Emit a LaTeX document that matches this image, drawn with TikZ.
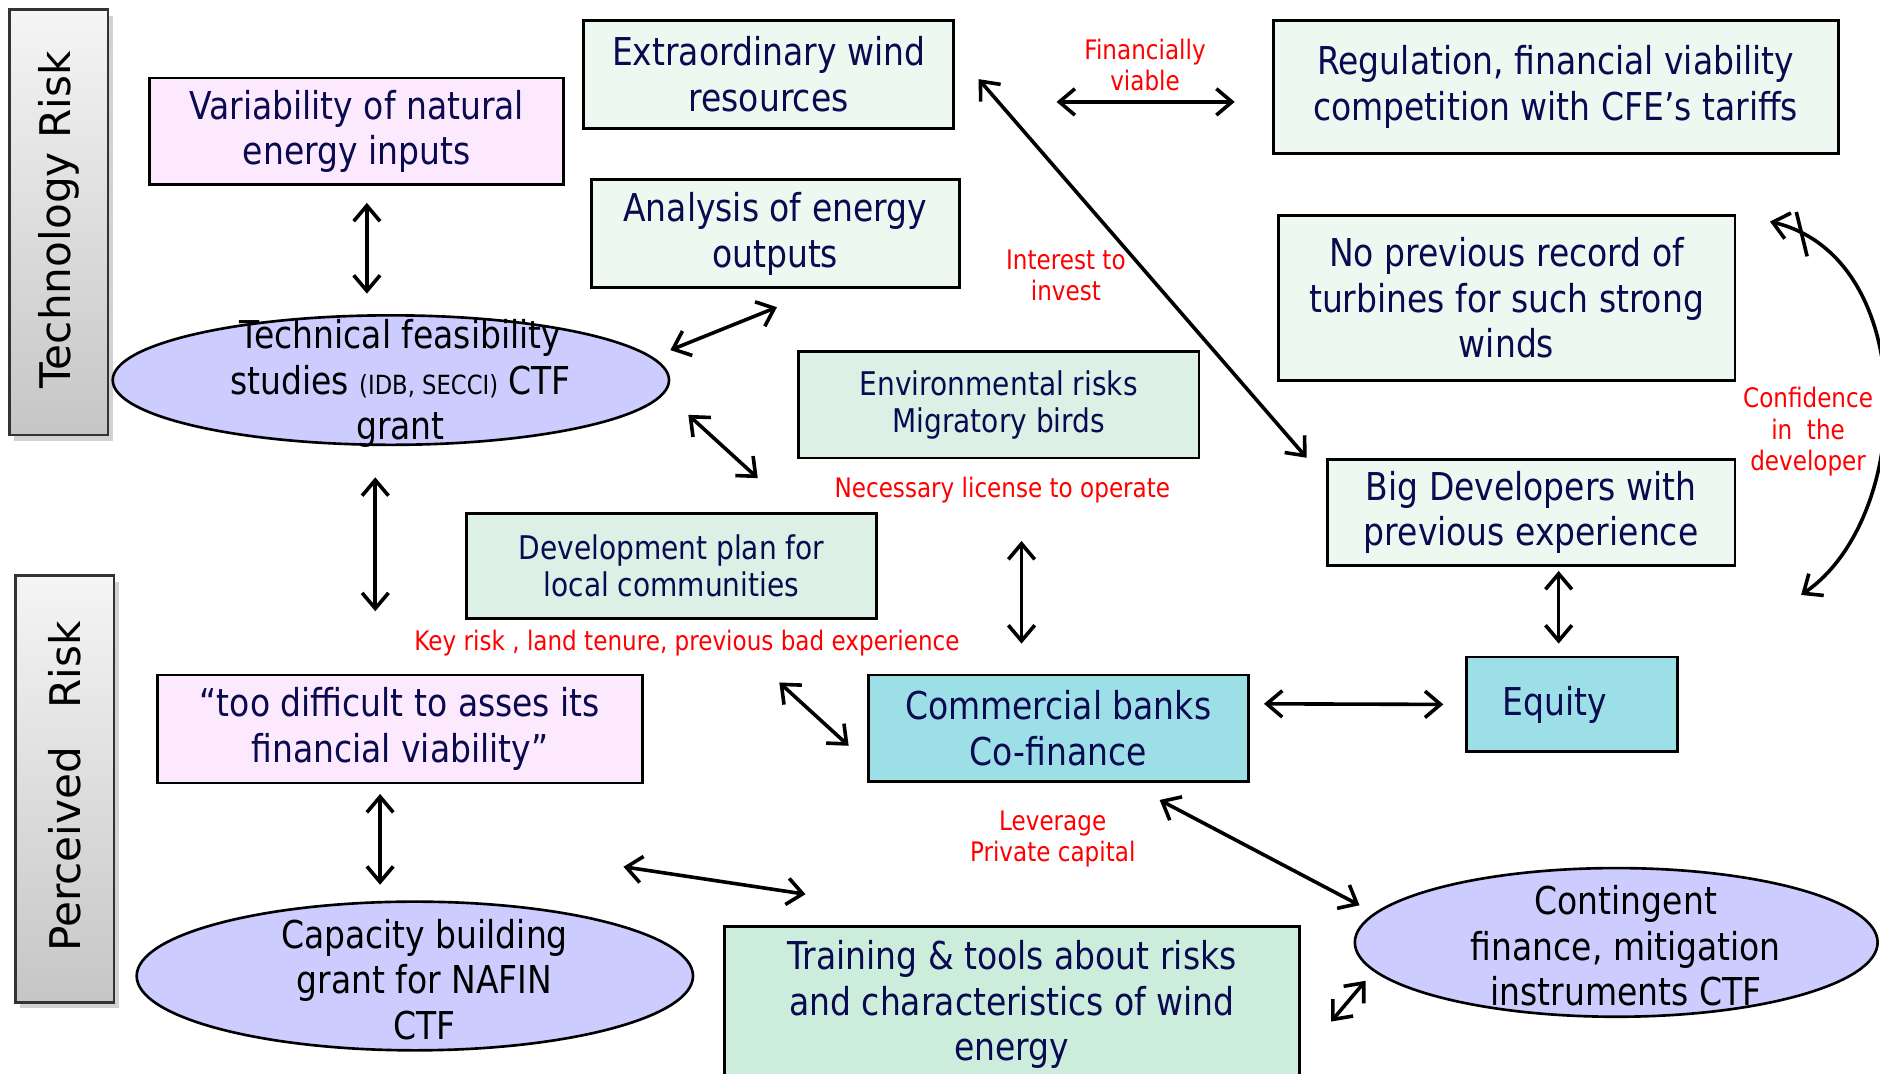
\documentclass[tikz,border=0pt]{standalone}
\usepackage{fontspec}
\newfontfamily\condfont[FakeStretch=0.86]{DejaVu Sans}
\newfontfamily\sidefont{DejaVu Sans}
\usetikzlibrary{arrows.meta,shapes.geometric,shadows}

\definecolor{navy}{RGB}{10,10,80}
\definecolor{pinkfill}{RGB}{253,233,253}
\definecolor{mintlight}{RGB}{237,248,241}
\definecolor{mintmid}{RGB}{220,240,230}
\definecolor{minttrain}{RGB}{204,237,220}
\definecolor{cyanfill}{RGB}{157,223,230}
\definecolor{ovalblue}{RGB}{204,204,255}

\begin{document}
\begin{tikzpicture}[x=0.5pt,y=-0.5pt,
    box/.style={draw, line width=1.2pt, align=center, inner sep=0pt, text=navy, font=\condfont\fontsize{16}{19}\selectfont},
    smallbox/.style={box, font=\condfont\fontsize{13.6}{15.5}\selectfont},
    oval/.style={ellipse, draw, line width=1.1pt, fill=ovalblue, inner sep=0pt},
    ovaltext/.style={align=center, xshift=4pt, yshift=-1.5pt, font=\condfont\fontsize{16}{19}\selectfont},
    note/.style={text=red, align=center, font=\condfont\fontsize{11.2}{13}\selectfont},
    side/.style={draw=black!80, line width=1pt, top color=gray!8, bottom color=gray!45, drop shadow={shadow xshift=2pt, shadow yshift=-2.5pt, fill=black!35}},
    sidetext/.style={rotate=90, xshift=1pt, font=\sidefont\fontsize{17.6}{20}\selectfont},
    link/.style={{Straight Barb[length=6.5pt,width=11pt]}-{Straight Barb[length=6.5pt,width=11pt]}, line width=1.5pt}
]
\fill[white] (0,0) rectangle (1568,895);
\useasboundingbox (0,0) rectangle (1568,895);

% risk bands on the left
\node[side, minimum width=41pt, minimum height=177.5pt, label={[sidetext]center:Technology Risk}] (techrisk) at (49,185.5) {};
\node[side, minimum width=41pt, minimum height=178pt, label={[sidetext]center:Perceived\hspace{0.9em}Risk}] (percrisk) at (54,658) {};

% boxes
\node[box, fill=pinkfill, minimum width=172.5pt, minimum height=44.5pt] (var) at (297.5,109.5) {Variability of natural\\energy inputs};
\node[box, fill=mintlight, minimum width=154pt, minimum height=45pt] (wind) at (641,62) {Extraordinary wind\\resources};
\node[box, fill=mintlight, minimum width=153.5pt, minimum height=45pt] (analysis) at (646.5,195) {Analysis of energy\\outputs};
\node[box, fill=mintlight, minimum width=235.5pt, minimum height=55.5pt] (regul) at (1297.5,72.5) {Regulation, financial viability\\competition with CFE’s tariffs};
\node[box, fill=mintlight, minimum width=190.5pt, minimum height=68.5pt] (norecord) at (1256.5,248.5) {No previous record of\\turbines for such strong\\winds};
\node[box, fill=mintlight, minimum width=170pt, minimum height=44.5pt] (bigdev) at (1277,427.5) {Big Developers with\\previous experience};
\node[smallbox, fill=mintmid, minimum width=167pt, minimum height=44.5pt] (env) at (833,337.5) {Environmental risks\\Migratory birds};
\node[smallbox, fill=mintmid, minimum width=171pt, minimum height=44pt] (devplan) at (560,472) {Development plan for\\local communities};
\node[box, fill=pinkfill, minimum width=202.5pt, minimum height=45pt] (difficult) at (333.5,608) {“too difficult to asses its\\financial viability”};
\node[box, fill=cyanfill, minimum width=158.5pt, minimum height=44.5pt] (banks) at (882.5,607.5) {Commercial banks\\Co-finance};
\node[box, fill=cyanfill, minimum width=88pt, minimum height=39.5pt] (equity) at (1311,587.5) {Equity\hspace*{14pt}};
\node[box, fill=minttrain, minimum width=240pt, minimum height=65pt] (training) at (844,838) {Training \& tools about risks\\and characteristics of wind\\energy};

% ellipses
\node[oval, minimum width=232pt, minimum height=54pt, label={[ovaltext]center:{Technical feasibility\\studies {\fontsize{11}{13}\selectfont(IDB, SECCI)} CTF\\grant}}] (tech) at (326,317) {};
\node[oval, minimum width=232pt, minimum height=62pt, label={[ovaltext]center:{Capacity building\\grant for NAFIN\\CTF}}] (capacity) at (346,814) {};
\node[oval, minimum width=218pt, minimum height=62pt, label={[ovaltext]center:{Contingent\\finance, mitigation\\instruments CTF}}] (contingent) at (1348,786) {};

% red notes
\node[note] (finviable) at (955,54) {Financially\\viable};
\node[note] (interest) at (889,230) {Interest to\\invest};
\node[note] (confidence) at (1508,360) {Confidence\\in\ \ the\\developer};
\node[note] (license) at (836,409) {Necessary license to operate};
\node[note] (keyrisk) at (573,536) {Key risk , land tenure, previous bad experience};
\node[note] (leverage) at (878,700) {Leverage\\Private capital};

% links
\draw[link] ([xshift=4.25pt,yshift=-7pt]var.south) -- ([xshift=-10pt,yshift=8.5pt]tech.north);
\draw[link] ([yshift=12.5pt]tech.east) -- ([xshift=0.75pt,yshift=-7.5pt]analysis.south);
\draw[link] ([xshift=7.5pt,yshift=-14.5pt]tech.east) -- ([xshift=36pt,yshift=14pt]devplan.north);
\draw[link] ([xshift=-6.5pt,yshift=-13pt]tech.south) -- ([xshift=-10.25pt,yshift=26pt]difficult.north);
\draw[link] ([xshift=-8.25pt,yshift=-4pt]difficult.south) -- ([xshift=-14.5pt,yshift=6.5pt]capacity.north);
\draw[link] ([xshift=87pt,yshift=14pt]capacity.north) -- ([xshift=34.5pt,yshift=13pt]training.north west);
\draw[link] ([xshift=42.5pt,yshift=-11.5pt]wind.east) -- ([xshift=-15.5pt,yshift=-6.25pt]regul.west);
\draw[link] ([xshift=10pt,yshift=-2pt]wind.east) -- ([xshift=-8pt]bigdev.north west);
\draw[link] ([xshift=9.5pt,yshift=-34pt]env.south) -- ([xshift=-15.25pt,yshift=12.5pt]banks.north);
\draw[link] ([xshift=45pt,yshift=-26pt]devplan.south) -- ([xshift=-7.5pt,yshift=-7.25pt]banks.west);
\draw[link] ([xshift=6pt,yshift=10.25pt]banks.east) -- ([xshift=-9pt]equity.west);
\draw[link] ([xshift=11.5pt,yshift=-1.5pt]bigdev.south) -- ([xshift=-5.5pt,yshift=5pt]equity.north);
\draw[link] ([xshift=-37.5pt,yshift=-7pt]banks.south east) -- ([xshift=2.5pt,yshift=15.5pt]contingent.west);
\draw[link] ([xshift=12.5pt,yshift=-7pt]training.east) -- ([xshift=5pt,yshift=-16pt]contingent.west);

% confidence loop, crossed at the top
\draw[link] ([xshift=14pt,yshift=-3pt]norecord.north east) .. controls +(125,30) and +(95,-65) .. ([xshift=27pt,yshift=-11.5pt]bigdev.south east);
\draw[line width=1.5pt] ([xshift=25pt,yshift=1pt]norecord.north east) -- ++(9,37);
\end{tikzpicture}
\end{document}
